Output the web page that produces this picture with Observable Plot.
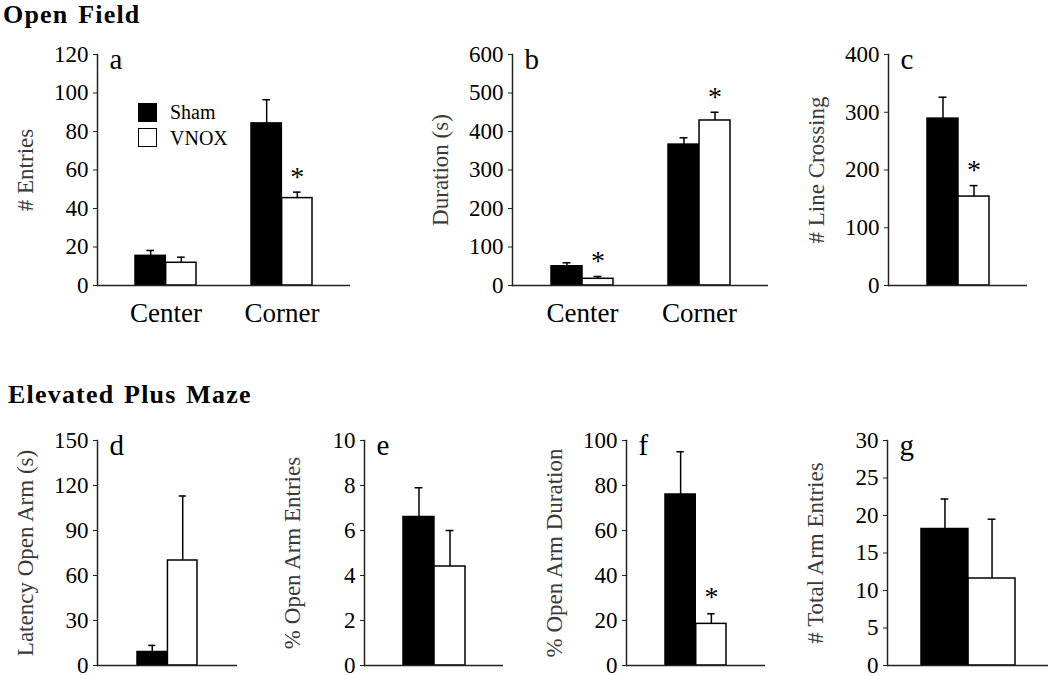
<!DOCTYPE html>
<html><head><meta charset="utf-8">
<script src="https://cdn.jsdelivr.net/npm/d3@7"></script>
<script src="https://cdn.jsdelivr.net/npm/@observablehq/plot@0.6"></script>
<style>
body{margin:0;background:#fff;}
#fig{position:relative;width:1050px;height:676px;font-family:"Liberation Serif","Times New Roman",serif;}
.title{position:absolute;font-weight:bold;font-size:26px;letter-spacing:1.2px;word-spacing:2px;white-space:nowrap;line-height:normal;color:#000}
.panel{position:absolute}
.panel svg{overflow:visible}
.leg{position:absolute;width:19px;height:19px;box-sizing:border-box;border:1.5px solid #000}
.legtxt{position:absolute;font-size:20px;line-height:normal;white-space:nowrap}
</style></head><body>
<div id="fig">
  <div class="title" style="left:3px;top:0px">Open Field</div>
  <div class="title" style="left:8px;top:380px">Elevated Plus Maze</div>
</div>
<script>
// ---- data ----
const groups = ["Sham", "VNOX"];
const openFieldZones = ["Center", "Corner"];
const singleCategory = ["All"];

const entriesSham = [15.4, 84.2], entriesShamSem = [2.8, 12.3];
const entriesVnox = [11.8, 45.4], entriesVnoxSem = [2.9, 3.1];
const entriesStar = [null, 59.7];
const entriesTicks = [0, 20, 40, 60, 80, 100, 120];

const durationSham = [50, 366], durationShamSem = [9, 17.6];
const durationVnox = [17.4, 428.6], durationVnoxSem = [6, 21.4];
const durationStar = [78, 506];
const durationTicks = [0, 100, 200, 300, 400, 500, 600];

const lineSham = [289], lineShamSem = [37];
const lineVnox = [154], lineVnoxSem = [19];
const lineStar = [211];
const lineTicks = [0, 100, 200, 300, 400];

const latencySham = [9], latencyShamSem = [4.4];
const latencyVnox = [70], latencyVnoxSem = [43];
const latencyStar = [null];
const latencyTicks = [0, 30, 60, 90, 120, 150];

const openEntriesSham = [6.6], openEntriesShamSem = [1.3];
const openEntriesVnox = [4.4], openEntriesVnoxSem = [1.6];
const openEntriesStar = [null];
const openEntriesTicks = [0, 2, 4, 6, 8, 10];

const openDurationSham = [76], openDurationShamSem = [19];
const openDurationVnox = [18.5], openDurationVnoxSem = [4.5];
const openDurationStar = [33];
const openDurationTicks = [0, 20, 40, 60, 80, 100];

const totalEntriesSham = [18.2], totalEntriesShamSem = [4.0];
const totalEntriesVnox = [11.6], totalEntriesVnoxSem = [7.9];
const totalEntriesStar = [null];
const totalEntriesTicks = [0, 5, 10, 15, 20, 25, 30];

const FONT = '"Liberation Serif","Times New Roman",serif';
const fig = document.getElementById("fig");

function panel(cfg) {
  const {left, top, width, height, ml, mr, mt, mb, cats, sham, shamSem, vnox, vnoxSem, star,
         ticks, ylabel, letter, pi, po, xAxis} = cfg;
  const rows = cats.map((c, i) => ({
    cat: c, sham: sham[i], shamTop: sham[i] + shamSem[i],
    vnox: vnox[i], vnoxTop: vnox[i] + vnoxSem[i], star: star[i]
  }));
  const bw = d3.scaleBand(cats, [ml, width - mr]).paddingInner(pi).paddingOuter(po).bandwidth();
  const q = bw / 4;
  const capInset = bw / 2 - 4;
  const marks = [
    Plot.barY(rows, {x: "cat", y: "sham", fill: "#000", stroke: "#000", strokeWidth: 1.5, insetLeft: 0, insetRight: bw / 2}),
    Plot.barY(rows, {x: "cat", y: "vnox", fill: "#fff", stroke: "#000", strokeWidth: 1.5, insetLeft: bw / 2, insetRight: 0}),
    Plot.ruleX(rows, {x: "cat", y1: "sham", y2: "shamTop", dx: -q, stroke: "#000", strokeWidth: 1.5}),
    Plot.tickY(rows, {x: "cat", y: "shamTop", dx: -q, insetLeft: capInset, insetRight: capInset, stroke: "#000", strokeWidth: 1.5}),
    Plot.ruleX(rows, {x: "cat", y1: "vnox", y2: "vnoxTop", dx: q, stroke: "#000", strokeWidth: 1.5}),
    Plot.tickY(rows, {x: "cat", y: "vnoxTop", dx: q, insetLeft: capInset, insetRight: capInset, stroke: "#000", strokeWidth: 1.5}),
    Plot.text(rows.filter(d => d.star != null), {x: "cat", y: "star", text: () => "*", dx: q, dy: 6, fontSize: 28, fill: "#000"}),
    Plot.ruleY([0], {stroke: "#222", strokeWidth: 1.5}),
    Plot.frame({anchor: "left", stroke: "#222", strokeWidth: 1.5}),
    Plot.axisY(ticks, {tickSize: 4, tickPadding: 5, label: null, fontSize: 23, stroke: "#222", fill: "#000"}),
    Plot.text([ylabel], {text: d => d, frameAnchor: "left", textAnchor: "middle", lineAnchor: "middle", rotate: -90, dx: -72, fontSize: 23, fill: "#3a3a3a"}),
    Plot.text([letter], {text: d => d, frameAnchor: "top-left", textAnchor: "start", lineAnchor: "top", dx: 12, dy: -6, fontSize: 29, fill: "#000"})
  ];
  if (xAxis) marks.push(Plot.axisX({tickSize: 0, tickPadding: 17, label: null, fontSize: 27, fill: "#000"}));
  const chart = Plot.plot({
    width, height, marginLeft: ml, marginRight: mr, marginTop: mt, marginBottom: mb,
    style: {fontFamily: FONT, fontSize: "22px", background: "transparent", overflow: "visible", color: "#000"},
    x: xAxis ? {domain: cats, paddingInner: pi, paddingOuter: po} : {domain: cats, paddingInner: pi, paddingOuter: po, axis: null},
    y: {domain: [0, ticks[ticks.length - 1]]},
    marks
  });
  const holder = document.createElement("div");
  holder.className = "panel";
  holder.style.left = left + "px";
  holder.style.top = top + "px";
  holder.appendChild(chart);
  fig.appendChild(holder);
}

// Open Field row
panel({left: 0, top: 30, width: 360, height: 310, ml: 97, mr: 10, mt: 24, mb: 55,
  cats: openFieldZones, sham: entriesSham, shamSem: entriesShamSem, vnox: entriesVnox, vnoxSem: entriesVnoxSem,
  star: entriesStar, ticks: entriesTicks, ylabel: "# Entries", letter: "a", pi: 0.472, po: 0.325, xAxis: true});
panel({left: 360, top: 30, width: 420, height: 310, ml: 152, mr: 12, mt: 24, mb: 55,
  cats: openFieldZones, sham: durationSham, shamSem: durationShamSem, vnox: durationVnox, vnoxSem: durationVnoxSem,
  star: durationStar, ticks: durationTicks, ylabel: "Duration (s)", letter: "b", pi: 0.472, po: 0.325, xAxis: true});
panel({left: 780, top: 30, width: 270, height: 310, ml: 108, mr: 23, mt: 24, mb: 55,
  cats: singleCategory, sham: lineSham, shamSem: lineShamSem, vnox: lineVnox, vnoxSem: lineVnoxSem,
  star: lineStar, ticks: lineTicks, ylabel: "# Line Crossing", letter: "c", pi: 0, po: 0.62, xAxis: false});

// Elevated Plus Maze row
panel({left: 0, top: 420, width: 262, height: 256, ml: 97, mr: 25, mt: 20, mb: 11,
  cats: singleCategory, sham: latencySham, shamSem: latencyShamSem, vnox: latencyVnox, vnoxSem: latencyVnoxSem,
  star: latencyStar, ticks: latencyTicks, ylabel: "Latency Open Arm (s)", letter: "d", pi: 0, po: 0.65, xAxis: false});
panel({left: 262, top: 420, width: 262, height: 256, ml: 102, mr: 21, mt: 20, mb: 11,
  cats: singleCategory, sham: openEntriesSham, shamSem: openEntriesShamSem, vnox: openEntriesVnox, vnoxSem: openEntriesVnoxSem,
  star: openEntriesStar, ticks: openEntriesTicks, ylabel: "% Open Arm Entries", letter: "e", pi: 0, po: 0.62, xAxis: false});
panel({left: 524, top: 420, width: 262, height: 256, ml: 102, mr: 21, mt: 20, mb: 11,
  cats: singleCategory, sham: openDurationSham, shamSem: openDurationShamSem, vnox: openDurationVnox, vnoxSem: openDurationVnoxSem,
  star: openDurationStar, ticks: openDurationTicks, ylabel: "% Open Arm Duration", letter: "f", pi: 0, po: 0.63, xAxis: false});
panel({left: 786, top: 420, width: 264, height: 256, ml: 101, mr: 2, mt: 20, mb: 11,
  cats: singleCategory, sham: totalEntriesSham, shamSem: totalEntriesShamSem, vnox: totalEntriesVnox, vnoxSem: totalEntriesVnoxSem,
  star: totalEntriesStar, ticks: totalEntriesTicks, ylabel: "# Total Arm Entries", letter: "g", pi: 0, po: 0.355, xAxis: false});

// Legend (panel a)
const legendColors = ["#000", "#fff"];
groups.forEach((g, i) => {
  const box = document.createElement("div");
  box.className = "leg";
  box.style.left = "138px";
  box.style.top = (103 + i * 25) + "px";
  box.style.background = legendColors[i];
  fig.appendChild(box);
  const t = document.createElement("div");
  t.className = "legtxt";
  t.style.left = "170px";
  t.style.top = (101 + i * 26) + "px";
  t.textContent = g;
  fig.appendChild(t);
});
</script>
</body></html>
